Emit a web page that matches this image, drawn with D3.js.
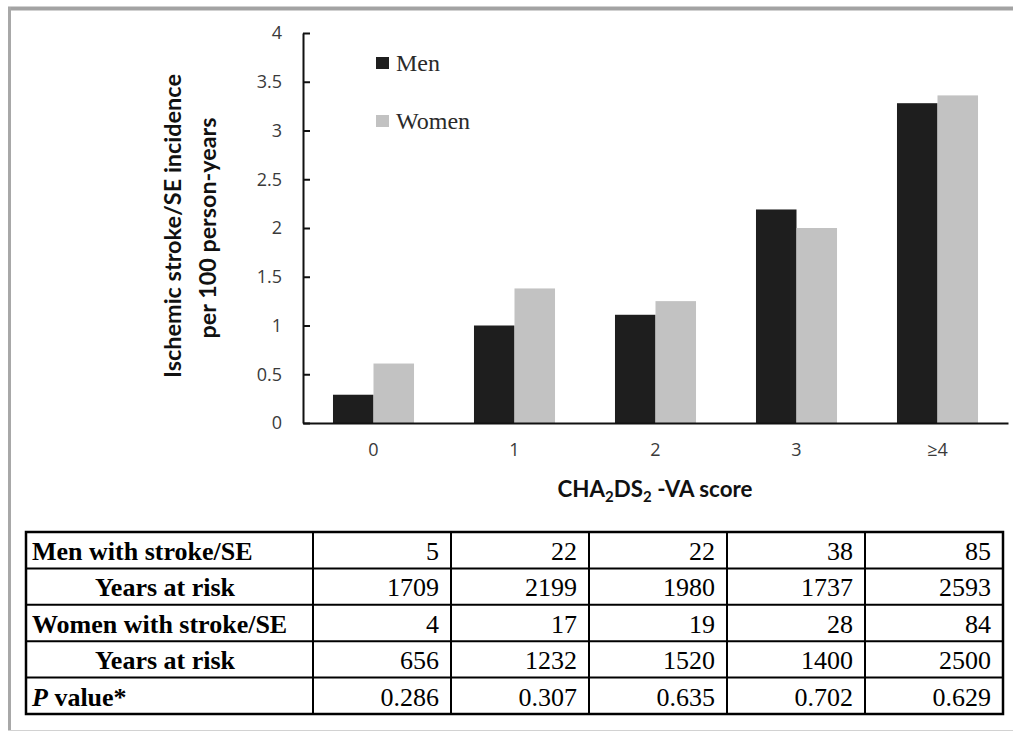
<!DOCTYPE html>
<html><head><meta charset="utf-8">
<script src="https://cdn.jsdelivr.net/npm/d3@7"></script>
<style>body{margin:0;background:#fff}svg{display:block}
.serif{font-family:"Liberation Serif","Times New Roman",Times,Tinos,"DejaVu Serif","Noto Serif",serif}</style>
</head><body>
<svg id="c" width="1013" height="732"></svg>
<script>
const categories = ["0", "1", "2", "3", "≥4"];
const seriesNames = ["Men", "Women"];
const menValues = [0.29, 1.00, 1.11, 2.19, 3.28];
const womenValues = [0.61, 1.38, 1.25, 2.00, 3.36];
const yTicks = [0, 0.5, 1, 1.5, 2, 2.5, 3, 3.5, 4];
const rowLabels = ["Men with stroke/SE", "Years at risk", "Women with stroke/SE", "Years at risk", "P value*"];
const menStroke = ["5", "22", "22", "38", "85"];
const menYears = ["1709", "2199", "1980", "1737", "2593"];
const womenStroke = ["4", "17", "19", "28", "84"];
const womenYears = ["656", "1232", "1520", "1400", "2500"];
const pValues = ["0.286", "0.307", "0.635", "0.702", "0.629"];

const colors = {Men: "#1e1e1e", Women: "#c2c2c2"};
const svg = d3.select("#c");

// frame
svg.append("line").attr("x1", 8).attr("x2", 1013).attr("y1", 8.5).attr("y2", 8.5).attr("stroke", "#a3a3a3").attr("stroke-width", 4);
svg.append("line").attr("x1", 9.5).attr("x2", 9.5).attr("y1", 7).attr("y2", 731).attr("stroke", "#a8a8a8").attr("stroke-width", 3);
svg.append("line").attr("x1", 8).attr("x2", 1013).attr("y1", 730.5).attr("y2", 730.5).attr("stroke", "#d2d2d2").attr("stroke-width", 1);

// scales
const y = d3.scaleLinear().domain([0, 4]).range([423, 33]);
const x0 = d3.scaleBand().domain(categories).range([303, 1008]).padding(0);
const x1 = d3.scaleBand().domain(seriesNames).range([0, x0.bandwidth()]).paddingInner(0).paddingOuter(0.74);

const data = categories.map((c, i) => ({cat: c, vals: [
  {s: "Men", v: menValues[i]}, {s: "Women", v: womenValues[i]}]}));

const g = svg.append("g");
g.selectAll("g.grp").data(data).join("g").attr("class", "grp")
  .attr("transform", d => `translate(${x0(d.cat)},0)`)
  .selectAll("rect").data(d => d.vals).join("rect")
  .attr("x", d => x1(d.s)).attr("width", x1.bandwidth())
  .attr("y", d => y(d.v)).attr("height", d => y(0) - y(d.v))
  .attr("fill", d => colors[d.s]);

// y axis
const yAxis = svg.append("g").attr("transform", "translate(303,0)")
  .call(d3.axisLeft(y).tickValues(yTicks).tickFormat(d => String(d))
    .tickSizeInner(-7).tickSizeOuter(0).tickPadding(21));
yAxis.select(".domain").attr("stroke", "#111").attr("stroke-width", 2);
yAxis.selectAll(".tick line").attr("stroke", "#111").attr("stroke-width", 2);
yAxis.selectAll(".tick text").attr("font-family", "'Open Sans', sans-serif").attr("font-size", 18).attr("fill", "#3a3a3a");

// x axis
const xAxis = svg.append("g").attr("transform", "translate(0,423)")
  .call(d3.axisBottom(x0).tickSize(0).tickPadding(20));
xAxis.select(".domain").attr("stroke", "#111").attr("stroke-width", 2);
xAxis.selectAll(".tick text").attr("font-family", "'Open Sans', sans-serif").attr("font-size", 18).attr("fill", "#3a3a3a");

// y title
function fitText(sel, target) {
  const w = sel.node().getComputedTextLength();
  const fs = parseFloat(sel.attr("font-size"));
  sel.attr("font-size", fs * target / w);
}
const yt1 = svg.append("text").attr("transform", "translate(181,226) rotate(-90)")
  .attr("text-anchor", "middle").attr("font-family", "Lato, sans-serif").attr("font-weight", "bold")
  .attr("font-size", 20).attr("fill", "#111").text("Ischemic stroke/SE incidence");
fitText(yt1, 304);
const yt2 = svg.append("text").attr("transform", "translate(216,228) rotate(-90)")
  .attr("text-anchor", "middle").attr("font-family", "Lato, sans-serif").attr("font-weight", "bold")
  .attr("font-size", 20).attr("fill", "#111").text("per 100 person-years");
fitText(yt2, 221);

// x title
const xt = svg.append("text").attr("x", 655).attr("y", 497).attr("text-anchor", "middle")
  .attr("font-family", "Lato, sans-serif").attr("font-weight", "bold").attr("font-size", 20).attr("fill", "#111");
xt.append("tspan").text("CHA");
xt.append("tspan").attr("dy", 5).attr("font-size", 15).text("2");
xt.append("tspan").attr("dy", -5).text("DS");
xt.append("tspan").attr("dy", 5).attr("font-size", 15).text("2");
xt.append("tspan").attr("dy", -5).text(" -VA score");
fitText(xt, 197);

// legend
const leg = svg.append("g");
seriesNames.forEach((s, i) => {
  const yy = 57 + i * 58;
  leg.append("rect").attr("x", 376).attr("y", yy).attr("width", 13).attr("height", 12).attr("fill", colors[s]);
  leg.append("text").attr("class", "serif").attr("x", 396).attr("y", yy + 14)
    .attr("font-size", 24).attr("fill", "#2a2a2a").text(s);
});

// table
const rows = [menStroke, menYears, womenStroke, womenYears, pValues];
const tTop = 532, tBot = 714, tLeft = 26, tRight = 1003, labelRight = 313;
const ry = d3.scaleBand().domain(d3.range(rows.length)).range([tTop, tBot]);
const cx = d3.scaleBand().domain(categories).range([labelRight, tRight]);
const tg = svg.append("g");
rows.forEach((r, i) => {
  const base = ry(i) + 28;
  const lab = tg.append("text").attr("class", "serif").attr("y", base)
    .attr("font-weight", "bold").attr("font-size", 26).attr("fill", "#000");
  if (i === 1 || i === 3) {
    lab.attr("x", 165).attr("text-anchor", "middle").text(rowLabels[i]);
  } else if (i === 4) {
    lab.attr("x", 32);
    lab.append("tspan").attr("font-style", "italic").text("P");
    lab.append("tspan").text(" value*");
  } else {
    lab.attr("x", 32).text(rowLabels[i]);
  }
  r.forEach((v, j) => {
    tg.append("text").attr("class", "serif").attr("x", cx(categories[j]) + cx.bandwidth() - 12).attr("y", base)
      .attr("text-anchor", "end")
      .attr("font-size", 26).attr("fill", "#000").text(v);
  });
});
tg.append("rect").attr("x", tLeft).attr("y", tTop).attr("width", tRight - tLeft).attr("height", tBot - tTop)
  .attr("fill", "none").attr("stroke", "#000").attr("stroke-width", 2.5);
d3.range(1, rows.length).forEach(i => {
  tg.append("line").attr("x1", tLeft).attr("x2", tRight).attr("y1", ry(i)).attr("y2", ry(i)).attr("stroke", "#000").attr("stroke-width", 2);
});
[labelRight].concat(categories.slice(1).map(c => cx(c))).forEach(xx => {
  tg.append("line").attr("x1", xx).attr("x2", xx).attr("y1", tTop).attr("y2", tBot).attr("stroke", "#000").attr("stroke-width", 2);
});
</script>
</body></html>
